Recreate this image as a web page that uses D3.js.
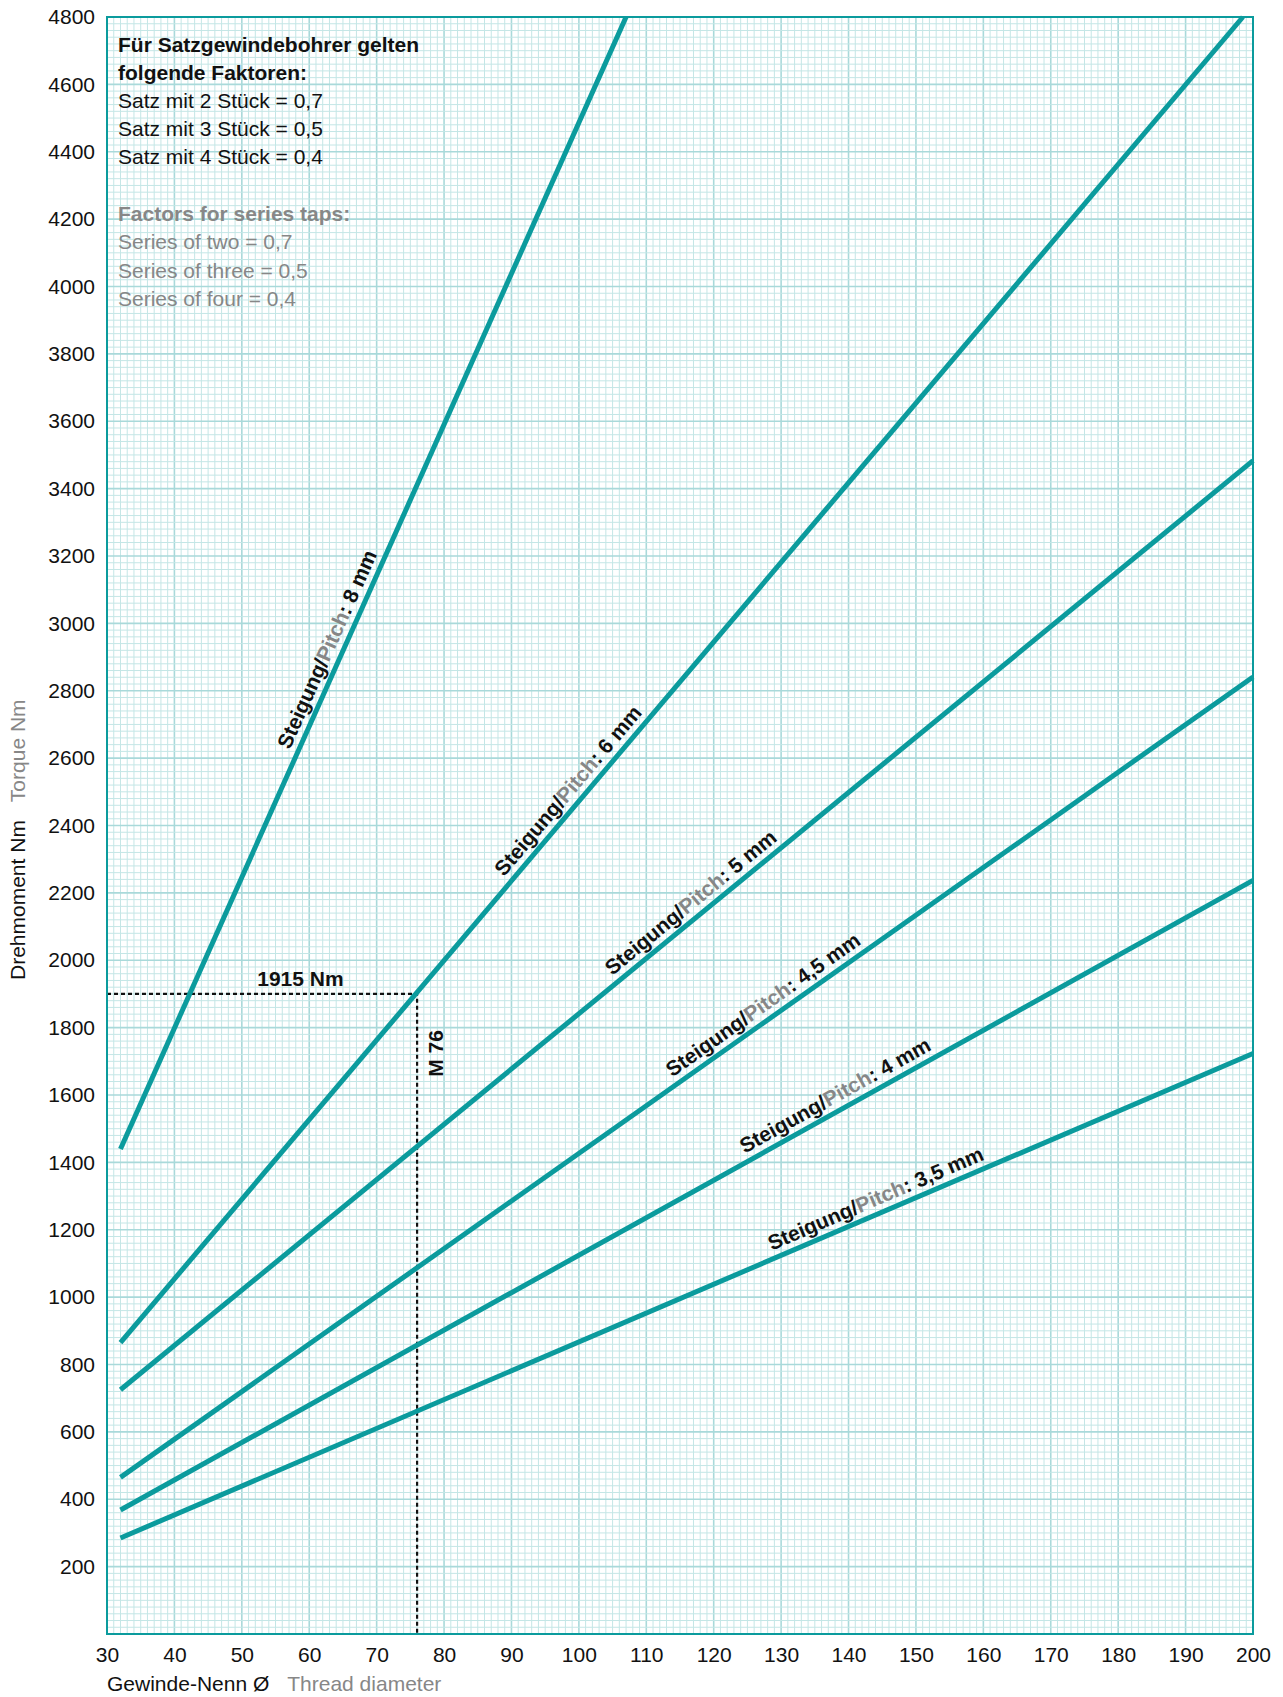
<!DOCTYPE html>
<html>
<head>
<meta charset="utf-8">
<script type="text/javascript" src="https://cdn.jsdelivr.net/npm/d3@7"></script>
<style>
    body { margin: 0; background: #fff; }
    text { font-family: "Liberation Sans", Arial, Helvetica, sans-serif; }
</style>
</head>
<body>
<div id="chart"></div>

<script type="text/javascript">
    // values
    const xTicks = d3.range(30, 201, 10);
    const yTicks = d3.range(200, 4801, 200);

    const pitchNames = ["8 mm", "6 mm", "5 mm", "4,5 mm", "4 mm", "3,5 mm"];
    const lineDiameters = [[32, 107], [32, 198.5], [32, 200], [32, 200], [32, 200], [32, 200]];
    const lineTorques = [[1440, 4800], [865, 4800], [725, 3483], [465, 2841], [368, 2237], [285, 1723]];
    const labelAt = [64.7, 100.1, 118, 128.6, 139.1, 144.9];

    const exampleDiameter = 76;
    const exampleTorque = 1900;
    const exampleTorqueText = "1915 Nm";
    const exampleThreadText = "M 76";

    const noteDe = ["Für Satzgewindebohrer gelten", "folgende Faktoren:",
        "Satz mit 2 Stück = 0,7", "Satz mit 3 Stück = 0,5", "Satz mit 4 Stück = 0,4"];
    const noteEn = ["Factors for series taps:", "Series of two = 0,7",
        "Series of three = 0,5", "Series of four = 0,4"];

    var width = 1283, height = 1697;
    var plotL = 107, plotR = 1253, plotT = 17, plotB = 1634;
    var teal = "#0b9b9d";
    var grey = "#878787";

    var svg = d3.select("#chart").append("svg")
        .attr("width", width)
        .attr("height", height);

    var x = d3.scaleLinear().domain([30, 200]).range([plotL, plotR]);
    var y = d3.scaleLinear().domain([0, 4800]).range([plotB, plotT]);

    // graph paper
    var grid = svg.append("g");
    grid.selectAll(".vminor").data(d3.range(30, 201, 1)).enter().append("line")
        .attr("x1", d => x(d)).attr("x2", d => x(d))
        .attr("y1", plotT).attr("y2", plotB)
        .attr("stroke", d => d % 10 == 0 ? "#a9d9da" : "#c4e6e6")
        .attr("stroke-width", d => d % 10 == 0 ? 1.6 : 1);
    grid.selectAll(".hminor").data(d3.range(0, 4801, 20)).enter().append("line")
        .attr("y1", d => y(d)).attr("y2", d => y(d))
        .attr("x1", plotL).attr("x2", plotR)
        .attr("stroke", d => d % 200 == 0 ? "#a9d9da" : "#c4e6e6")
        .attr("stroke-width", d => d % 200 == 0 ? 1.6 : 1);

    // axes (labels only)
    var xAxis = svg.append("g")
        .attr("transform", `translate(0,${plotB})`)
        .call(d3.axisBottom(x).tickValues(xTicks).tickFormat(d3.format("d")).tickSize(0).tickPadding(13));
    var yAxis = svg.append("g")
        .attr("transform", `translate(${plotL},0)`)
        .call(d3.axisLeft(y).tickValues(yTicks).tickFormat(d3.format("d")).tickSize(0).tickPadding(12));
    [xAxis, yAxis].forEach(a => {
        a.select(".domain").remove();
        a.selectAll("text")
            .style("font-family", '"Liberation Sans", Arial, sans-serif')
            .style("font-size", "21px")
            .attr("fill", "#111");
    });

    // dashed example
    svg.append("path")
        .attr("d", d3.line()([[x(30), y(exampleTorque)], [x(exampleDiameter), y(exampleTorque)], [x(exampleDiameter), y(0)]]))
        .attr("fill", "none")
        .attr("stroke", "#111")
        .attr("stroke-width", 2.2)
        .attr("stroke-dasharray", "4,3");

    svg.append("text")
        .attr("x", x(58.7)).attr("y", y(exampleTorque) - 8)
        .attr("text-anchor", "middle")
        .attr("font-size", 21).attr("font-weight", "bold").attr("fill", "#111")
        .text(exampleTorqueText);

    svg.append("text")
        .attr("transform", `translate(${x(79.8)},${y(1654)}) rotate(-90)`)
        .attr("font-size", 21).attr("font-weight", "bold").attr("fill", "#111")
        .text(exampleThreadText);

    // pitch lines
    var line = d3.line().x(d => x(d[0])).y(d => y(d[1]));
    pitchNames.forEach((name, i) => {
        var pts = lineDiameters[i].map((d, j) => [d, lineTorques[i][j]]);
        svg.append("path")
            .attr("d", line(pts))
            .attr("fill", "none")
            .attr("stroke", teal)
            .attr("stroke-width", 5);

        var slope = (pts[1][1] - pts[0][1]) / (pts[1][0] - pts[0][0]);
        var lx = labelAt[i], ly = pts[0][1] + (lx - pts[0][0]) * slope;
        var angle = Math.atan2(y(pts[1][1]) - y(pts[0][1]), x(pts[1][0]) - x(pts[0][0])) * 180 / Math.PI;

        var t = svg.append("text")
            .attr("transform", `translate(${x(lx)},${y(ly)}) rotate(${angle})`)
            .attr("dy", -8)
            .attr("text-anchor", "middle")
            .attr("font-size", 21).attr("font-weight", "bold").attr("fill", "#111");
        t.append("tspan").text("Steigung/");
        t.append("tspan").attr("fill", grey).text("Pitch");
        t.append("tspan").text(": " + name);
    });

    // frame
    svg.append("rect")
        .attr("x", plotL).attr("y", plotT)
        .attr("width", plotR - plotL).attr("height", plotB - plotT)
        .attr("fill", "none")
        .attr("stroke", teal)
        .attr("stroke-width", 2);

    // notes
    noteDe.forEach((s, i) => {
        svg.append("text")
            .attr("x", 118).attr("y", 52 + i * 28)
            .attr("font-size", 21)
            .attr("font-weight", i < 2 ? "bold" : "normal")
            .attr("fill", "#111")
            .text(s);
    });
    noteEn.forEach((s, i) => {
        svg.append("text")
            .attr("x", 118).attr("y", 221 + i * 28.3)
            .attr("font-size", 21)
            .attr("font-weight", i < 1 ? "bold" : "normal")
            .attr("fill", grey)
            .text(s);
    });

    // axis titles
    var xt = svg.append("text")
        .attr("x", plotL).attr("y", 1691)
        .attr("font-size", 21).attr("fill", "#111");
    xt.append("tspan").text("Gewinde-Nenn Ø");
    xt.append("tspan").attr("dx", 18).attr("fill", grey).text("Thread diameter");

    var yt = svg.append("text")
        .attr("transform", "translate(25,980) rotate(-90)")
        .attr("font-size", 21).attr("fill", "#111");
    yt.append("tspan").text("Drehmoment Nm");
    yt.append("tspan").attr("dx", 18).attr("fill", grey).text("Torque Nm");
</script>
</body>
</html>
